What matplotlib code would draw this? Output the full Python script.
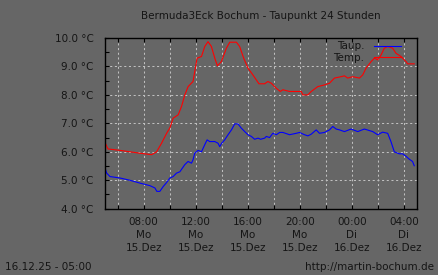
import numpy as np
import matplotlib.pyplot as plt
from matplotlib.ticker import MultipleLocator, FixedLocator

# =============================================================================
# Data (hours after 15.12.25 05:00, degrees C)

temp_h = [0.0, 0.27, 1.19, 2.72, 3.62, 4.0, 4.38, 4.77, 5.02, 5.27, 5.66, 5.92,
          6.17, 6.42, 6.8, 7.11, 7.45, 7.7, 7.95, 8.21, 8.47, 8.67, 8.98, 9.36,
          9.62, 10.13, 10.38, 10.69, 11.02, 11.4, 11.86, 12.3, 12.55, 12.81,
          13.2, 13.5, 13.7, 14.21, 15.11, 15.23, 15.62, 15.88, 16.38, 16.9,
          17.28, 17.66, 18.18, 18.43, 18.68, 19.07, 19.58, 19.83, 20.09, 20.48,
          20.73, 20.98, 21.24, 21.49, 21.75, 22.13, 22.39, 22.77, 23.16, 23.28,
          23.79]
temp_c = [6.36, 6.1, 6.05, 5.95, 5.9, 6.0, 6.3, 6.65, 6.84, 7.18, 7.3, 7.6,
          8.0, 8.29, 8.47, 9.29, 9.35, 9.7, 9.87, 9.7, 9.29, 9.02, 9.17, 9.64,
          9.85, 9.85, 9.7, 9.29, 8.94, 8.7, 8.39, 8.39, 8.47, 8.41, 8.23, 8.12,
          8.18, 8.12, 8.12, 8.0, 8.0, 8.12, 8.29, 8.35, 8.41, 8.59, 8.64, 8.67,
          8.59, 8.64, 8.59, 8.7, 8.94, 9.17, 9.29, 9.23, 9.4, 9.64, 9.7, 9.64,
          9.46, 9.35, 9.17, 9.09, 9.09]

taup_h = [0.0, 0.17, 0.42, 1.19, 1.95, 2.72, 3.49, 3.87, 4.02, 4.25, 4.51, 4.77,
          5.02, 5.27, 5.53, 5.79, 6.17, 6.42, 6.68, 6.8, 6.93, 7.19, 7.45, 7.7,
          7.88, 8.08, 8.47, 8.72, 8.85, 9.0, 9.23, 9.49, 9.75, 10.0, 10.25,
          10.51, 10.77, 11.02, 11.28, 11.53, 11.79, 11.99, 12.3, 12.43, 12.68,
          12.93, 13.2, 13.45, 13.7, 14.21, 14.73, 14.98, 15.36, 15.62, 15.88,
          16.26, 16.51, 16.9, 17.28, 17.53, 17.79, 18.05, 18.43, 18.94, 19.45,
          19.96, 20.6, 20.98, 21.36, 21.75, 22.0, 22.13, 22.26, 22.64, 22.9,
          23.16, 23.41, 23.66, 23.79]
taup_c = [5.48, 5.25, 5.13, 5.08, 5.0, 4.9, 4.81, 4.73, 4.61, 4.61, 4.78, 4.92,
          5.08, 5.13, 5.25, 5.3, 5.55, 5.66, 5.6, 5.72, 5.95, 6.05, 6.0, 6.25,
          6.42, 6.36, 6.36, 6.3, 6.18, 6.3, 6.42, 6.6, 6.77, 6.98, 6.98, 6.83,
          6.71, 6.6, 6.54, 6.44, 6.48, 6.44, 6.48, 6.54, 6.5, 6.65, 6.6, 6.68,
          6.68, 6.6, 6.65, 6.68, 6.6, 6.56, 6.62, 6.77, 6.65, 6.68, 6.77, 6.89,
          6.8, 6.77, 6.71, 6.8, 6.71, 6.8, 6.71, 6.6, 6.69, 6.65, 6.36, 6.18,
          6.0, 5.93, 5.93, 5.84, 5.74, 5.66, 5.51]

label_h = [3, 7, 11, 15, 19, 23]
label_txt = ["08:00\nMo\n15.Dez", "12:00\nMo\n15.Dez", "16:00\nMo\n15.Dez",
             "20:00\nMo\n15.Dez", "00:00\nDi\n16.Dez", "04:00\nDi\n16.Dez"]
grid_h = [1, 3, 5, 7, 9, 11, 13, 15, 17, 19, 21, 23]
y_ticks = [4, 5, 6, 7, 8, 9, 10]

# =============================================================================
# Plot

BG = "#666666"
TXT = "#151515"
GRID = "#c0c0c0"

fg = plt.figure(figsize=(4.38, 2.75), dpi=100, facecolor=BG)
ax = fg.add_axes([0.2386, 0.241, 0.7134, 0.621], facecolor=BG)

ax.plot(taup_h, taup_c, c="#0000ff", lw=0.8, label="Taup.")
ax.plot(temp_h, temp_c, c="#ff0000", lw=0.8, label="Temp.")

ax.set_xlim(0, 24)
ax.set_ylim(4, 10)

for h in grid_h:
    ax.axvline(h, c=GRID, lw=0.75, dashes=(2, 2.5), zorder=0)
for t in y_ticks[1:-1]:
    ax.axhline(t, c=GRID, lw=0.75, dashes=(2, 2.5), zorder=0)

ax.xaxis.set_major_locator(FixedLocator(label_h))
ax.xaxis.set_minor_locator(FixedLocator(grid_h))
ax.set_xticklabels(label_txt, linespacing=1.4)
ax.set_yticks(y_ticks)
ax.set_yticklabels([f"{t:.1f} °C" for t in y_ticks])
ax.yaxis.set_minor_locator(MultipleLocator(0.5))

ax.tick_params(axis="both", which="both", direction="in", length=3,
               width=0.8, color="k", labelsize=7.5, labelcolor=TXT)
ax.tick_params(axis="x", which="both", top=True, pad=6)
ax.tick_params(axis="y", which="both", pad=8)

for sp in ax.spines.values():
    sp.set_color("k")
    sp.set_linewidth(1.0)

ax.legend(loc="upper right", bbox_to_anchor=(0.965, 1.01), frameon=False,
          markerfirst=False, fontsize=7.5, handlelength=2.6, labelspacing=0.15,
          borderpad=0, handletextpad=0.9, labelcolor=TXT)

ax.set_title("Bermuda3Eck Bochum - Taupunkt 24 Stunden", fontsize=7.5,
             color=TXT, pad=14)

fg.text(0.012, 0.03, "16.12.25 - 05:00", fontsize=7.5, color=TXT,
        ha="left", va="center")
fg.text(0.99, 0.03, "http://martin-bochum.de", fontsize=7.5, color=TXT,
        ha="right", va="center")

fg.savefig("out.png", dpi=100, facecolor=BG)
